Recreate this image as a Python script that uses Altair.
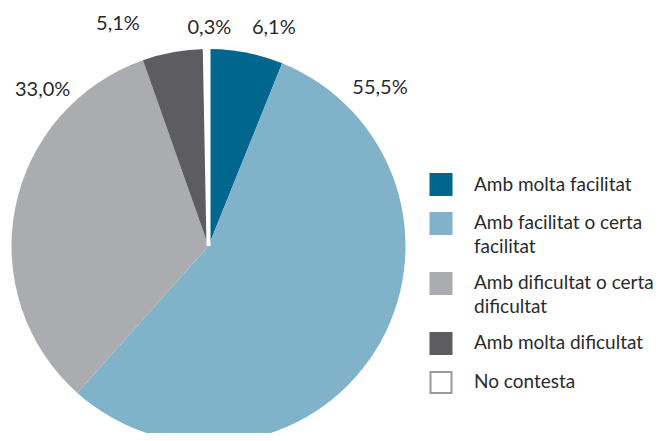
import altair as alt
import pandas as pd

categories = [
    "Amb molta facilitat",
    "Amb facilitat o certa facilitat",
    "Amb dificultat o certa dificultat",
    "Amb molta dificultat",
    "No contesta",
]
legend_labels = [
    "Amb molta facilitat",
    "Amb facilitat o certa\nfacilitat",
    "Amb dificultat o certa\ndificultat",
    "Amb molta dificultat",
    "No contesta",
]
values = [6.1, 55.5, 33.0, 5.1, 0.3]
value_labels = ["6,1%", "55,5%", "33,0%", "5,1%", "0,3%"]
fills = ["#00668e", "#80b2ca", "#abacb0", "#5d5d61", "#ffffff"]
strokes = ["#00668e", "#80b2ca", "#abacb0", "#5d5d61", "#9a9a9a"]

# label nudges (style only): dx, dy per slice label
label_nudges = [(23, 0), (-17, -275), (52, -113), (-51, -4), (3, 4)]

df = pd.DataFrame({
    "cat": categories,
    "legend": legend_labels,
    "value": values,
    "label": value_labels,
    "idx": list(range(len(categories))),
})
n_lines = df["legend"].str.count("\n") + 1
df["slot"] = (n_lines + 0.857).cumsum().shift(fill_value=0)

CX, CY, R = 200.5, 238, 197
FONT = "Lato"
TXT = "#2a2a2a"

theta_scale = alt.Scale(domain=[0, 100])
color = alt.Color("cat:N", scale=alt.Scale(domain=categories, range=fills), legend=None)

pie = alt.Chart(df).mark_arc(radius=R, x=CX, y=CY, stroke="white").encode(
    theta=alt.Theta("value:Q", stack=True, scale=theta_scale),
    color=color,
    order=alt.Order("idx:Q"),
    strokeWidth=alt.condition(alt.datum.cat == "No contesta", alt.value(4), alt.value(0)),
)

layers = [pie]
for cat, (dx, dy) in zip(categories, label_nudges):
    t = (
        alt.Chart(df)
        .transform_window(cum="sum(value)", sort=[alt.SortField("idx")], frame=[None, 0])
        .transform_calculate(mid="datum.cum - datum.value / 2")
        .transform_filter(alt.datum.cat == cat)
        .mark_text(radius=222, x=CX, y=CY, dx=dx, dy=dy, font=FONT, fontSize=20,
                   color=TXT, align="center", baseline="middle")
        .encode(theta=alt.Theta("mid:Q", scale=theta_scale), text="label:N")
    )
    layers.append(t)

yslot = alt.Y("slot:Q", scale=alt.Scale(domain=[0, 1], range=[176.5, 197.5], nice=False, zero=False), axis=None)

sym = alt.Chart(df).mark_square(size=441, x=441 - 8, strokeWidth=2, opacity=1).encode(
    y=yslot,
    fill=alt.Fill("cat:N", scale=alt.Scale(domain=categories, range=fills), legend=None),
    stroke=alt.Stroke("cat:N", scale=alt.Scale(domain=categories, range=strokes), legend=None),
)
txt = alt.Chart(df).mark_text(x=474 - 8, align="left", baseline="middle", lineBreak="\n",
                              font=FONT, fontSize=19, lineHeight=24, color=TXT).encode(
    y=yslot,
    text="legend:N",
)
layers += [sym, txt]

chart = alt.layer(*layers).properties(
    width=649, height=425, padding=0, autosize=alt.AutoSizeParams(type="none")
).configure_view(stroke=None).resolve_scale(color="independent")

chart.save("out.html", embed_options={"renderer": "svg", "actions": False})
